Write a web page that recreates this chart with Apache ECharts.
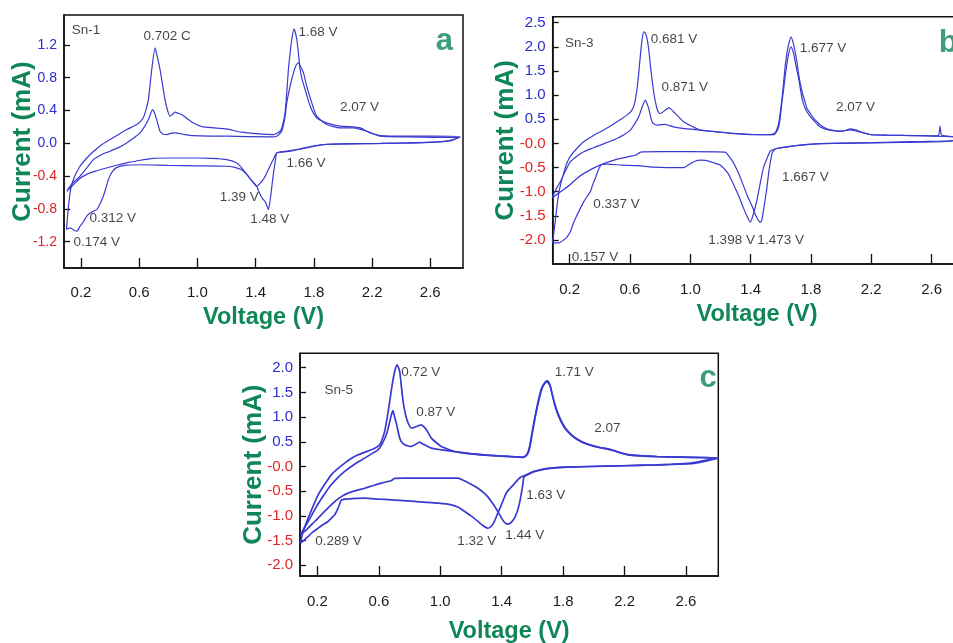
<!DOCTYPE html>
<html>
<head>
<meta charset="utf-8">
<script src="https://cdn.jsdelivr.net/npm/echarts@6/dist/echarts.min.js"></script>
<style>
html,body{margin:0;padding:0;background:#fff;}
#chart{width:953px;height:643px;}
</style>
</head>
<body>
<div id="chart"></div>
<script>
// ---------------- tick labels ----------------
const xTickValues = [0.2, 0.6, 1.0, 1.4, 1.8, 2.2, 2.6];
const yTickValuesA = [-1.2, -0.8, -0.4, 0, 0.4, 0.8, 1.2];
const yTickValuesB = [-2.0, -1.5, -1.0, -0.5, 0, 0.5, 1.0, 1.5, 2.0, 2.5];
const yTickValuesC = [-2.0, -1.5, -1.0, -0.5, 0, 0.5, 1.0, 1.5, 2.0];
const panelLetters = ['a', 'b', 'c'];
const sampleNames = ['Sn-1', 'Sn-3', 'Sn-5'];

// ---------------- Sn-1 (panel a): [voltage V, current mA] ----------------
const sn1Cycle1 = [
[0.100,-1.05],[0.108,-0.88],[0.118,-0.70],[0.130,-0.55],[0.150,-0.43],[0.193,-0.28],[0.240,-0.18],[0.285,-0.10],
[0.340,-0.02],[0.399,0.045],[0.460,0.11],[0.514,0.167],[0.583,0.228],[0.610,0.27],[0.628,0.31],[0.645,0.40],
[0.663,0.533],[0.686,0.899],[0.709,1.163],[0.726,1.04],[0.743,0.899],[0.760,0.72],[0.777,0.533],[0.795,0.40],
[0.811,0.33],[0.828,0.35],[0.846,0.379],[0.870,0.365],[0.892,0.35],[0.930,0.30],[0.972,0.248],[1.041,0.20],
[1.201,0.175],[1.300,0.135],[1.522,0.106],[1.568,0.147],[1.585,0.22],[1.602,0.37],[1.614,0.62],[1.625,0.899],
[1.637,1.10],[1.648,1.265],[1.664,1.395],[1.683,1.265],[1.695,1.08],[1.706,0.899],[1.722,0.76],[1.740,0.655],
[1.775,0.452],[1.820,0.309],[1.889,0.248],[1.980,0.208],[2.072,0.20],[2.118,0.187],[2.187,0.126],[2.256,0.094],
[2.440,0.086],[2.620,0.086],[2.805,0.078],
[2.740,0.030],[2.620,0.015],[2.440,0.006],[2.260,-0.002],[1.980,-0.008],[1.870,-0.016],[1.750,-0.057],[1.640,-0.097],
[1.568,-0.109],[1.545,-0.118],[1.533,-0.24],[1.520,-0.40],[1.505,-0.62],[1.488,-0.81],[1.475,-0.75],[1.465,-0.71],
[1.450,-0.68],[1.435,-0.64],[1.420,-0.58],[1.407,-0.524],[1.370,-0.45],[1.339,-0.38],[1.300,-0.32],[1.250,-0.29],
[1.200,-0.28],[1.000,-0.275],[0.800,-0.27],[0.600,-0.262],[0.500,-0.27],[0.440,-0.30],[0.410,-0.36],[0.388,-0.443],
[0.370,-0.55],[0.353,-0.646],[0.330,-0.74],[0.308,-0.809],[0.285,-0.829],[0.262,-0.85],[0.239,-0.89],[0.215,-0.96],
[0.193,-1.012],[0.171,-1.073],[0.150,-1.06],[0.125,-1.032],[0.100,-1.05]
];
const sn1Cycle2 = [
[0.102,-0.585],[0.140,-0.49],[0.193,-0.402],[0.240,-0.30],[0.285,-0.199],[0.340,-0.14],[0.399,-0.097],[0.460,-0.05],
[0.514,0.004],[0.560,0.06],[0.605,0.126],[0.635,0.20],[0.663,0.289],[0.680,0.37],[0.692,0.411],[0.705,0.37],
[0.720,0.289],[0.743,0.147],[0.765,0.11],[0.789,0.106],[0.815,0.12],[0.846,0.126],[0.900,0.11],[0.972,0.094],
[1.200,0.086],[1.500,0.078],[1.545,0.086],[1.579,0.147],[1.600,0.30],[1.614,0.492],[1.640,0.72],[1.660,0.858],
[1.678,0.95],[1.694,0.98],[1.710,0.93],[1.729,0.858],[1.751,0.696],[1.786,0.492],[1.820,0.33],[1.889,0.228],
[1.980,0.187],[2.070,0.187],[2.120,0.17],[2.164,0.147],[2.256,0.086],[2.439,0.078],[2.622,0.073],[2.805,0.073],
[2.720,0.030],[2.600,0.012],[2.400,0.0],[2.200,-0.004],[1.900,-0.012],[1.800,-0.03],[1.700,-0.07],[1.600,-0.10],
[1.545,-0.118],[1.520,-0.20],[1.490,-0.31],[1.460,-0.42],[1.430,-0.49],[1.407,-0.524],[1.380,-0.47],[1.339,-0.38],
[1.300,-0.29],[1.270,-0.24],[1.200,-0.20],[1.100,-0.185],[1.000,-0.18],[0.800,-0.18],[0.700,-0.185],[0.600,-0.21],
[0.514,-0.24],[0.450,-0.265],[0.400,-0.29],[0.300,-0.34],[0.250,-0.37],[0.200,-0.42],[0.150,-0.50],[0.102,-0.585]
];

// ---------------- Sn-3 (panel b) ----------------
const sn3Cycle1 = [
[0.085,-2.06],[0.095,-1.85],[0.105,-1.60],[0.116,-1.30],[0.127,-1.05],[0.140,-0.85],[0.160,-0.62],[0.180,-0.42],
[0.204,-0.27],[0.249,-0.10],[0.293,0.034],[0.350,0.15],[0.404,0.241],[0.460,0.34],[0.514,0.448],[0.580,0.586],
[0.613,0.689],[0.632,0.85],[0.647,1.138],[0.658,1.45],[0.669,1.828],[0.680,2.15],[0.691,2.311],[0.702,2.28],
[0.713,2.173],[0.724,1.95],[0.735,1.621],[0.746,1.33],[0.757,1.069],[0.768,0.87],[0.779,0.724],[0.790,0.64],
[0.801,0.62],[0.818,0.65],[0.834,0.689],[0.856,0.737],[0.872,0.71],[0.889,0.655],[0.920,0.56],[0.956,0.448],
[1.000,0.37],[1.066,0.275],[1.177,0.241],[1.287,0.206],[1.420,0.185],[1.530,0.18],[1.564,0.22],[1.575,0.30],
[1.586,0.42],[1.597,0.65],[1.608,0.93],[1.620,1.30],[1.630,1.62],[1.641,1.88],[1.652,2.05],[1.668,2.207],
[1.685,2.05],[1.696,1.88],[1.707,1.69],[1.720,1.40],[1.741,1.07],[1.757,0.90],[1.774,0.724],[1.796,0.62],
[1.818,0.52],[1.840,0.45],[1.862,0.38],[1.895,0.32],[1.929,0.28],[1.995,0.25],[2.030,0.27],[2.061,0.30],
[2.095,0.28],[2.128,0.24],[2.194,0.185],[2.305,0.172],[2.415,0.165],[2.526,0.16],[2.620,0.158],[2.647,0.17],
[2.656,0.36],[2.662,0.22],[2.670,0.17],[2.744,0.137],[2.797,0.13],
[2.760,0.07],[2.700,0.04],[2.600,0.03],[2.500,0.025],[2.400,0.02],[2.200,0.01],[2.000,0.0],[1.860,-0.005],
[1.750,-0.03],[1.640,-0.07],[1.580,-0.10],[1.550,-0.13],[1.530,-0.16],[1.510,-0.30],[1.487,-0.48],[1.465,-0.80],
[1.443,-1.16],[1.420,-1.44],[1.398,-1.63],[1.375,-1.50],[1.354,-1.35],[1.320,-1.08],[1.288,-0.86],[1.250,-0.62],
[1.200,-0.45],[1.155,-0.40],[1.100,-0.35],[1.066,-0.345],[1.030,-0.37],[1.000,-0.42],[0.956,-0.50],[0.850,-0.50],
[0.750,-0.49],[0.650,-0.46],[0.550,-0.45],[0.450,-0.43],[0.410,-0.44],[0.390,-0.55],[0.370,-0.72],[0.350,-0.88],
[0.337,-1.00],[0.315,-1.10],[0.293,-1.21],[0.270,-1.35],[0.249,-1.48],[0.225,-1.65],[0.204,-1.83],[0.180,-1.95],
[0.160,-2.00],[0.130,-2.06],[0.085,-2.06]
];
const sn3Cycle2 = [
[0.085,-1.12],[0.094,-1.05],[0.115,-0.92],[0.138,-0.795],[0.170,-0.58],[0.204,-0.381],[0.250,-0.26],[0.293,-0.174],
[0.350,-0.10],[0.404,-0.035],[0.460,0.035],[0.514,0.103],[0.560,0.18],[0.602,0.275],[0.630,0.40],[0.658,0.551],
[0.680,0.75],[0.702,0.896],[0.713,0.82],[0.724,0.724],[0.735,0.58],[0.746,0.448],[0.760,0.40],[0.779,0.379],
[0.810,0.39],[0.834,0.393],[0.860,0.37],[0.889,0.344],[0.950,0.31],[1.066,0.275],[1.177,0.24],[1.300,0.20],
[1.420,0.18],[1.553,0.18],[1.575,0.26],[1.586,0.34],[1.597,0.55],[1.608,0.86],[1.620,1.15],[1.630,1.41],
[1.641,1.65],[1.652,1.86],[1.668,2.00],[1.685,1.86],[1.700,1.62],[1.718,1.35],[1.741,0.93],[1.760,0.74],
[1.785,0.60],[1.820,0.47],[1.862,0.34],[1.930,0.27],[2.000,0.255],[2.060,0.28],[2.120,0.24],[2.194,0.18],
[2.300,0.17],[2.500,0.16],[2.740,0.14],[2.797,0.13],
[2.750,0.06],[2.650,0.045],[2.540,0.04],[2.400,0.03],[2.200,0.015],[2.000,0.005],[1.860,-0.005],[1.750,-0.03],
[1.640,-0.07],[1.580,-0.10],[1.560,-0.12],[1.550,-0.16],[1.542,-0.20],[1.530,-0.40],[1.520,-0.60],[1.509,-0.89],
[1.497,-1.15],[1.487,-1.35],[1.475,-1.58],[1.468,-1.63],[1.455,-1.61],[1.435,-1.50],[1.410,-1.30],[1.380,-1.10],
[1.354,-0.89],[1.320,-0.62],[1.288,-0.41],[1.260,-0.28],[1.230,-0.18],[1.000,-0.17],[0.800,-0.17],[0.670,-0.18],
[0.640,-0.24],[0.600,-0.27],[0.500,-0.34],[0.400,-0.45],[0.300,-0.61],[0.250,-0.72],[0.200,-0.86],[0.140,-1.00],
[0.085,-1.12]
];

// ---------------- Sn-5 (panel c) ----------------
const sn5Cycle1 = [
[0.090,-1.55],[0.100,-1.40],[0.118,-1.22],[0.140,-1.046],[0.170,-0.82],[0.205,-0.574],[0.250,-0.35],[0.291,-0.169],
[0.335,-0.04],[0.378,0.067],[0.420,0.16],[0.465,0.236],[0.510,0.29],[0.551,0.337],[0.580,0.38],[0.606,0.439],
[0.622,0.55],[0.638,0.709],[0.655,1.00],[0.671,1.316],[0.687,1.65],[0.703,1.923],[0.719,2.058],[0.728,2.00],
[0.736,1.923],[0.747,1.62],[0.758,1.316],[0.769,1.12],[0.780,0.978],[0.795,0.85],[0.812,0.776],[0.830,0.79],
[0.845,0.81],[0.862,0.83],[0.877,0.844],[0.894,0.80],[0.910,0.742],[0.926,0.66],[0.942,0.574],[0.975,0.48],
[1.007,0.405],[1.050,0.35],[1.094,0.304],[1.180,0.26],[1.268,0.236],[1.370,0.215],[1.474,0.202],[1.541,0.182],
[1.560,0.23],[1.573,0.304],[1.585,0.45],[1.595,0.641],[1.610,0.90],[1.628,1.181],[1.645,1.42],[1.660,1.586],
[1.682,1.707],[1.697,1.734],[1.714,1.653],[1.730,1.45],[1.747,1.249],[1.763,1.10],[1.779,0.978],[1.800,0.85],
[1.823,0.742],[1.855,0.64],[1.888,0.56],[1.930,0.49],[1.975,0.439],[2.040,0.385],[2.094,0.358],[2.148,0.304],
[2.190,0.26],[2.235,0.236],[2.409,0.202],[2.713,0.182],[2.810,0.169],
[2.750,0.14],[2.700,0.11],[2.626,0.068],[2.500,0.045],[2.409,0.034],[2.235,0.02],[1.975,0.0],[1.823,-0.013],
[1.714,-0.034],[1.650,-0.07],[1.606,-0.101],[1.560,-0.17],[1.520,-0.223],[1.476,-0.371],[1.433,-0.52],[1.410,-0.68],
[1.389,-0.843],[1.370,-0.98],[1.357,-1.08],[1.335,-1.20],[1.311,-1.25],[1.280,-1.20],[1.246,-1.113],[1.200,-1.00],
[1.159,-0.911],[1.120,-0.83],[1.072,-0.776],[0.986,-0.742],[0.834,-0.708],[0.682,-0.675],[0.600,-0.66],[0.508,-0.641],
[0.430,-0.65],[0.380,-0.66],[0.356,-0.68],[0.345,-0.76],[0.335,-0.843],[0.313,-0.978],[0.290,-1.05],[0.270,-1.113],
[0.240,-1.17],[0.205,-1.248],[0.170,-1.33],[0.140,-1.417],[0.115,-1.49],[0.090,-1.55]
];
const sn5Cycle2 = [
[0.090,-1.38],[0.120,-1.22],[0.161,-1.00],[0.200,-0.78],[0.248,-0.55],[0.290,-0.37],[0.335,-0.22],[0.378,-0.10],
[0.421,0.0],[0.465,0.09],[0.508,0.169],[0.550,0.25],[0.595,0.337],[0.620,0.45],[0.649,0.641],[0.667,0.85],
[0.682,1.046],[0.692,1.13],[0.703,1.00],[0.714,0.877],[0.725,0.72],[0.736,0.574],[0.750,0.49],[0.769,0.439],
[0.790,0.415],[0.812,0.405],[0.840,0.45],[0.866,0.493],[0.882,0.46],[0.899,0.439],[0.942,0.371],[1.000,0.34],
[1.094,0.30],[1.200,0.26],[1.300,0.23],[1.450,0.20],[1.540,0.19],[1.560,0.22],[1.573,0.28],[1.585,0.42],
[1.595,0.60],[1.610,0.86],[1.628,1.15],[1.645,1.38],[1.660,1.56],[1.680,1.68],[1.695,1.71],[1.714,1.64],
[1.730,1.44],[1.747,1.23],[1.763,1.08],[1.779,0.96],[1.800,0.83],[1.823,0.73],[1.855,0.63],[1.888,0.55],
[1.930,0.48],[1.975,0.43],[2.040,0.38],[2.090,0.35],[2.148,0.30],[2.235,0.23],[2.410,0.20],[2.700,0.18],[2.810,0.17],
[2.720,0.10],[2.650,0.06],[2.550,0.045],[2.400,0.03],[2.200,0.015],[1.975,0.0],[1.823,-0.015],[1.714,-0.04],
[1.650,-0.075],[1.606,-0.11],[1.560,-0.18],[1.545,-0.21],[1.538,-0.35],[1.530,-0.506],[1.520,-0.68],[1.508,-0.843],
[1.490,-1.00],[1.476,-1.08],[1.455,-1.15],[1.433,-1.167],[1.415,-1.12],[1.400,-1.05],[1.367,-0.87],[1.335,-0.72],
[1.300,-0.58],[1.250,-0.45],[1.200,-0.36],[1.150,-0.28],[1.116,-0.236],[1.000,-0.236],[0.900,-0.236],[0.760,-0.236],
[0.703,-0.24],[0.680,-0.29],[0.650,-0.31],[0.617,-0.337],[0.560,-0.39],[0.508,-0.44],[0.450,-0.49],[0.400,-0.54],
[0.356,-0.61],[0.320,-0.69],[0.291,-0.776],[0.250,-0.90],[0.205,-1.046],[0.170,-1.15],[0.140,-1.248],[0.115,-1.32],
[0.090,-1.38]
];

// ---------------- peak annotations: [text, V, mA] (text centre) ----------------
const sn1Notes = [
['Sn-1',0.235,1.378],['0.702 C',0.791,1.305],['1.68 V',1.829,1.358],['2.07 V',2.113,0.444],['1.66 V',1.746,-0.248],
['1.39 V',1.288,-0.654],['1.48 V',1.497,-0.922],['0.312 V',0.418,-0.91],['0.174 V',0.308,-1.202]
];
const sn3Notes = [
['Sn-3',0.264,2.083],['0.681 V',0.892,2.153],['0.871 V',0.963,1.159],['1.677 V',1.880,1.967],['2.07 V',2.095,0.745],
['1.667 V',1.763,-0.691],['0.337 V',0.510,-1.257],['1.398 V',1.274,-2.002],['1.473 V',1.599,-2.002],['0.157 V',0.368,-2.36]
];
const sn5Notes = [
['Sn-5',0.339,1.545],['0.72 V',0.873,1.897],['0.87 V',0.971,1.10],['1.71 V',1.873,1.897],['2.07',2.088,0.783],
['1.63 V',1.687,-0.587],['1.32 V',1.238,-1.518],['1.44 V',1.550,-1.39],['0.289 V',0.337,-1.512]
];
const letterPos = [[2.697,1.244],[2.711,2.07],[2.744,1.775]];

// ---------------- styling ----------------
const NARROW = "'Liberation Sans Narrow','Liberation Sans',Arial,sans-serif";
const SANS = "'Liberation Sans',Arial,sans-serif";
const GREEN = '#0f8658';
const LINE_BLUE = '#3a3ad2';
const LABEL_BLUE = '#2b2bd0';
const LABEL_RED = '#e02424';
const NOTE_FS = 13.5;

const panels = [
  {grid:{left:64, top:15, width:399, height:253}, xMin:0.083, xMax:2.825, yMin:-1.521, yMax:1.564,
   yTicks:yTickValuesA, negZero:false, cycles:[sn1Cycle1, sn1Cycle2], notes:sn1Notes, lw:1.2,
   xMargin:17.5, xGap:38, yGap:28, tickFs:14, xTickFs:15},
  {grid:{left:552.7, top:16.7, width:408.6, height:247.3}, xMin:0.0875, xMax:2.797, yMin:-2.497, yMax:2.624,
   yTicks:yTickValuesB, negZero:true, cycles:[sn3Cycle1, sn3Cycle2], notes:sn3Notes, lw:1.2,
   xMargin:18, xGap:39, yGap:34, tickFs:15, xTickFs:15},
  {grid:{left:300, top:353.3, width:418.3, height:222.7}, xMin:0.087, xMax:2.81, yMin:-2.217, yMax:2.291,
   yTicks:yTickValuesC, negZero:true, cycles:[sn5Cycle1, sn5Cycle2], notes:sn5Notes, lw:1.7,
   xMargin:18.5, xGap:44, yGap:33, tickFs:15, xTickFs:15}
];

function yFormatter(negZero){
  return function(v){
    const isZero = Math.abs(v) < 1e-9;
    const txt = isZero ? (negZero ? '-0.0' : '0.0') : v.toFixed(1);
    const neg = v < -1e-9 || (negZero && isZero);
    return neg ? '{r|' + txt + '}' : '{b|' + txt + '}';
  };
}

const grids = [], xAxes = [], yAxes = [], series = [];
panels.forEach(function(p, i){
  grids.push(Object.assign({show:true, borderColor:'#111', borderWidth:1.5, backgroundColor:'#fff',
    containLabel:false, outerBoundsMode:'none'}, p.grid));
  xAxes.push({
    type:'value', gridIndex:i, min:p.xMin, max:p.xMax,
    name:'Voltage (V)', nameLocation:'middle', nameGap:p.xGap, nameMoveOverlap:false,
    nameTextStyle:{color:GREEN, fontFamily:SANS, fontWeight:'bold', fontSize:23.5},
    axisLine:{show:true, onZero:false, lineStyle:{color:'#111', width:1.5}},
    axisTick:{show:true, inside:true, length:10, customValues:xTickValues, lineStyle:{color:'#111', width:1.3}},
    axisLabel:{show:true, customValues:xTickValues, margin:p.xMargin, color:'#1a1a1a', fontFamily:NARROW, fontSize:p.xTickFs,
      formatter:function(v){return v.toFixed(1);}},
    splitLine:{show:false}
  });
  yAxes.push({
    type:'value', gridIndex:i, min:p.yMin, max:p.yMax,
    name:'Current (mA)', nameLocation:'middle', nameGap:p.yGap, nameRotate:90, nameMoveOverlap:false,
    nameTextStyle:{color:GREEN, fontFamily:SANS, fontWeight:'bold', fontSize:26},
    axisLine:{show:true, onZero:false, lineStyle:{color:'#111', width:1.5}},
    axisTick:{show:true, inside:true, length:6, customValues:p.yTicks, lineStyle:{color:'#111', width:1.3}},
    axisLabel:{show:true, customValues:p.yTicks, margin:7, fontFamily:NARROW, fontSize:p.tickFs,
      formatter:yFormatter(p.negZero),
      rich:{b:{color:LABEL_BLUE, fontFamily:NARROW, fontSize:p.tickFs}, r:{color:LABEL_RED, fontFamily:NARROW, fontSize:p.tickFs}}},
    splitLine:{show:false}
  });
  p.cycles.forEach(function(c, k){
    series.push({
      type:'line', name:sampleNames[i] + ' cycle ' + (k + 1), xAxisIndex:i, yAxisIndex:i,
      data:c, showSymbol:false, smooth:0.2, clip:true, silent:true,
      lineStyle:{color:LINE_BLUE, width:p.lw}, z:3
    });
  });
  series.push({
    type:'scatter', xAxisIndex:i, yAxisIndex:i, silent:true, symbolSize:1, z:6,
    itemStyle:{color:'rgba(0,0,0,0)'},
    data:p.notes.map(function(n){return {name:n[0], value:[n[1], n[2]]};}),
    label:{show:true, position:'inside', formatter:'{b}', color:'#151515', fontFamily:NARROW, fontSize:NOTE_FS}
  });
  series.push({
    type:'scatter', xAxisIndex:i, yAxisIndex:i, silent:true, symbolSize:1, z:6,
    itemStyle:{color:'rgba(0,0,0,0)'},
    data:[{name:panelLetters[i], value:letterPos[i]}],
    label:{show:true, position:'inside', formatter:'{b}', color:GREEN, fontFamily:SANS, fontWeight:'bold', fontSize:31}
  });
});

const chart = echarts.init(document.getElementById('chart'), null, {renderer:'canvas'});
chart.setOption({
  animation:false,
  backgroundColor:'#ffffff',
  grid:grids, xAxis:xAxes, yAxis:yAxes, series:series
});
</script>
</body>
</html>
